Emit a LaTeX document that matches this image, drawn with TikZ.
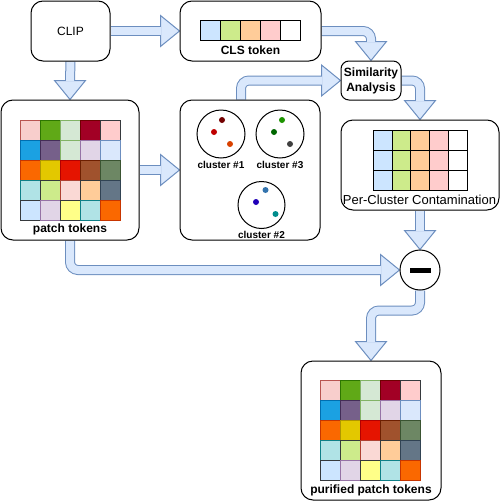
\documentclass[tikz,border=0pt]{standalone}
\usepackage{fontspec}
\setmainfont{Liberation Sans}
\usetikzlibrary{calc,backgrounds}

\definecolor{arrowfill}{HTML}{DAE8FC}
\definecolor{arrowline}{HTML}{6C8EBF}
\definecolor{tokblue}{HTML}{CCE5FF}
\definecolor{tokgreen}{HTML}{CDEB8B}
\definecolor{tokorange}{HTML}{FFCC99}
\definecolor{tokpink}{HTML}{FFCCCC}
\definecolor{cellline}{HTML}{36393D}

\newcommand\fatarrow[3]{%
  \draw[fatline] #1 -- ($(#2)+(#3:-19)$);
  \filldraw[fathead] ($(#2)+(#3:-19)+(#3+90:15.5)$) -- (#2)
    -- ($(#2)+(#3:-19)+(#3-90:15.5)$) -- cycle;
  \draw[fatfill] #1 -- ($(#2)+(#3:-18.4)$);
}

\newcommand\tokengrid[1]{%
  \foreach \fc/\dc [count=\k from 0] in {F8CECC/B85450,60A917/2D7600,D5E8D4/82B366,A20025/6F0000,FFCCCC/36393D,
      1BA1E2/006EAF,76608A/432D57,D5E8D4/82B366,E1D5E7/9673A6,DAE8FC/6C8EBF,
      FA6800/C73500,E3C800/B09500,E51400/B20000,A0522D/6D1F00,6D8764/3A5431,
      B0E3E6/0E8088,CDEB8B/36393D,FAD9D5/AE4132,FFCC99/36393D,647687/314354,
      CCE5FF/36393D,E1D5E7/9673A6,FFFF88/36393D,B0E3E6/0E8088,FA6800/C73500}{
    \pgfmathtruncatemacro\gr{div(\k,5)}
    \pgfmathtruncatemacro\gc{mod(\k,5)}
    \edef\setcols{\noexpand\definecolor{cf}{HTML}{\fc}\noexpand\definecolor{cd}{HTML}{\dc}}\setcols
    \filldraw[fill=cf,draw=cd] ($(#1)+(20*\gc,20*\gr)$) rectangle ++(20,20);
  }}

\begin{document}
\begin{tikzpicture}[x=1pt,y=-1pt,line width=1pt]
\tikzset{
  box/.style={draw,fill=white,rounded corners=12pt,inner sep=0pt},
  smallbox/.style={box,rounded corners=8pt},
  title/.style={font=\bfseries\fontsize{12}{15}\selectfont,inner sep=0pt},
  plain/.style={font=\fontsize{12}{14}\selectfont,inner sep=0pt},
  tag/.style={font=\bfseries\fontsize{10}{12}\selectfont,inner sep=0pt},
  clu/.style={draw,circle,minimum size=48pt,inner sep=0pt},
  fatline/.style={line width=10pt,draw=arrowline,rounded corners=8pt},
  fatfill/.style={line width=8pt,draw=arrowfill,rounded corners=8pt},
  fathead/.style={fill=arrowfill,draw=arrowline,line width=1pt,line join=miter}
}
\useasboundingbox (0,0) rectangle (501,501);

\node[box,minimum width=79pt,minimum height=60pt,plain] (clip) at (70.5,31) {CLIP};
\node[box,minimum width=141pt,minimum height=60pt] (cls) at (250.5,31) {};
\node[title] (clstxt) at (250.5,50) {CLS token};
\node[box,minimum width=138pt,minimum height=140pt] (patch) at (70,170) {};
\node[title] (patchtxt) at (70,229.5) {patch tokens};
\node[box,minimum width=140pt,minimum height=140pt] (clus) at (250,170) {};
\node[smallbox,minimum width=60pt,minimum height=39pt,title,align=center] (sim) at (371,80.5) {Similarity\\Analysis};
\node[box,minimum width=158pt,minimum height=90pt] (pcc) at (420,165) {};
\node[plain,font=\fontsize{13}{15}\selectfont] (pcctxt) at (419.5,200) {Per-Cluster Contamination};
\node[draw,fill=white,circle,minimum size=40pt,inner sep=0pt] (minus) at (420,270) {};
\node[box,minimum width=140pt,minimum height=139pt] (pure) at (371,430.5) {};
\node[title] (puretxt) at (371,490) {purified patch tokens};

% token strips
\foreach \cc [count=\i from 0] in {tokblue,tokgreen,tokorange,tokpink,white}{
  \filldraw[fill=\cc,draw=black] (200+20*\i,20.7) rectangle ++(20,20);
  \foreach \j in {0,1,2}
    \filldraw[fill=\cc,draw=black] (373.3+18.8*\i,130+20*\j) rectangle ++(18.8,20);
}
\tokengrid{20.3,120.3}
\tokengrid{320.3,380.3}

% clusters
\node[clu] (c1) at (221,134) {};
\node[clu] (c3) at (280,134) {};
\node[clu,minimum size=47pt] (c2) at (261.5,205) {};
\node[tag] (c1txt) at (221,165) {cluster \#1};
\node[tag] (c3txt) at (280,165) {cluster \#3};
\node[tag] (c2txt) at (261.5,235) {cluster \#2};
\fill[red!45!black] ($(c1)+(1,-14)$) circle (3);
\fill[red!75!black] ($(c1)+(-7,-2)$) circle (3);
\fill[orange!60!red!85!black] ($(c1)+(9,10)$) circle (3);
\fill[green!50!black!85!lime] ($(c3)+(2,-14)$) circle (3);
\fill[green!40!black] ($(c3)+(-6,-2)$) circle (3);
\fill[black!75] ($(c3)+(10,10)$) circle (3);
\fill[cyan!60!blue!80!black] ($(c2)+(4,-15)$) circle (3);
\fill[blue!70!violet!85!black] ($(c2)+(-5.5,-3)$) circle (3);
\fill[teal!90!cyan] ($(c2)+(14,9)$) circle (3);

\fill (410,267.6) rectangle (431,272.6);

\begin{pgfonlayer}{background}
\coordinate (c2s) at ($(clus.north)+(-9,0)$);
\coordinate (bend) at ($(minus.south)+(0,20)$);
\fatarrow{(clip.east)}{cls.west}{0}
\fatarrow{(clip.south)}{patch.north}{90}
\fatarrow{(patch.east)}{clus.west}{0}
\fatarrow{(c2s) -- (c2s |- sim.west)}{sim.west}{0}
\fatarrow{(cls.east) -- (cls.east -| sim.north)}{sim.north}{90}
\fatarrow{(sim.east) -- (sim.east -| pcc.north)}{pcc.north}{90}
\fatarrow{(pcc.south)}{minus.north}{90}
\fatarrow{(patch.south) -- (patch.south |- minus.west)}{minus.west}{0}
\fatarrow{(minus.south) -- (bend) -- (bend -| pure.north)}{pure.north}{90}
\end{pgfonlayer}
\end{tikzpicture}
\end{document}
